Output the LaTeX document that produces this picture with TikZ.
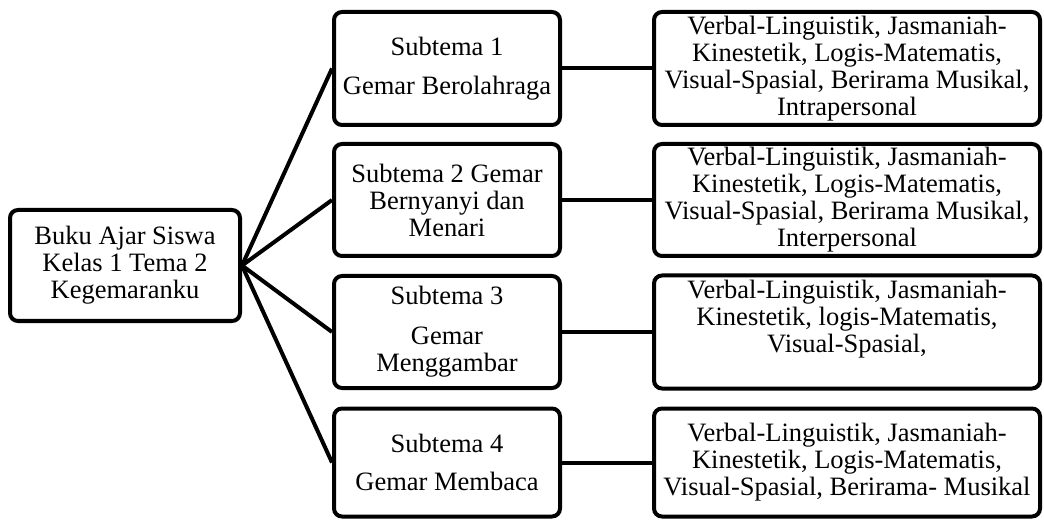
\documentclass[tikz,border=0pt]{standalone}
\usepackage{fontspec}
\setmainfont{Liberation Serif}
\usetikzlibrary{positioning}

\begin{document}
\begin{tikzpicture}[x=1pt, y=-1pt, line width=4pt,
    box/.style={draw, rounded corners=8pt, fill=white, align=center,
      inner sep=1pt, font=\fontsize{26.5}{27}\selectfont},
    subbox/.style={box, minimum width=226pt},
    kecbox/.style={box, minimum width=386pt}]
  \useasboundingbox (0,0) rectangle (1044,521);
  \node[box, minimum width=230pt, minimum height=111pt] (root) at (125,265.5)
    {Buku Ajar Siswa\\Kelas 1 Tema 2\\Kegemaranku};
  % subtema
  \node[subbox, minimum height=113pt] (sub1) at (447,68.5)
    {Subtema 1\\[12pt]Gemar Berolahraga};
  \node[subbox, minimum height=112pt] (sub2) at (447,200)
    {Subtema 2 Gemar\\Bernyanyi dan\\Menari};
  \node[subbox, minimum height=112pt] (sub3) at (447,332)
    {Subtema 3\\[13pt]Gemar\\Menggambar};
  \node[subbox, minimum height=108pt] (sub4) at (447,462.5)
    {Subtema 4\\[11pt]Gemar Membaca};
  % kecerdasan
  \node[kecbox, minimum height=113pt] (kec1) at (847,68.5)
    {Verbal-Linguistik, Jasmaniah-\\Kinestetik, Logis-Matematis,\\Visual-Spasial, Berirama Musikal,\\Intrapersonal};
  \node[kecbox, minimum height=112pt] (kec2) at (847,200)
    {Verbal-Linguistik, Jasmaniah-\\Kinestetik, Logis-Matematis,\\Visual-Spasial, Berirama Musikal,\\Interpersonal};
  \node[kecbox, minimum height=113pt] (kec3) at (847,332)
    {Verbal-Linguistik, Jasmaniah-\\Kinestetik, logis-Matematis,\\Visual-Spasial,\\[5pt]\mbox{}};
  \node[kecbox, minimum height=108pt] (kec4) at (847,462.5)
    {Verbal-Linguistik, Jasmaniah-\\Kinestetik, Logis-Matematis,\\Visual-Spasial, Berirama- Musikal};
  \foreach \i in {1,...,4} {
    \draw (root.east) -- (sub\i.west);
    \draw (sub\i.east) -- (kec\i.west);
  }
\end{tikzpicture}
\end{document}
